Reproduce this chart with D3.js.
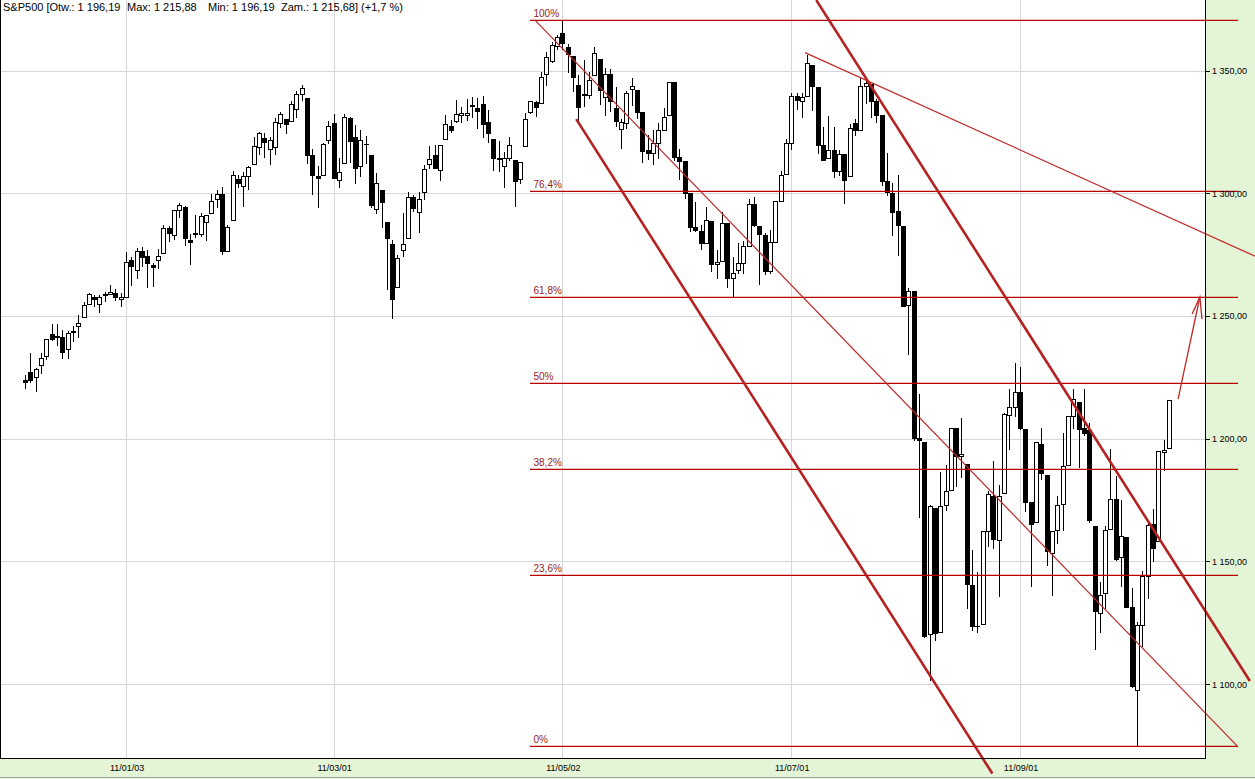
<!DOCTYPE html>
<html><head><meta charset="utf-8">
<script src="https://cdn.jsdelivr.net/npm/d3@7"></script>
<style>body{margin:0;background:#fff;overflow:hidden}svg{display:block}</style>
</head><body>
<script>
// ---------- DATA (S&P500 daily OHLC) ----------
const dates = [
"10/12/06","10/12/07","10/12/08","10/12/09","10/12/10","10/12/13","10/12/14","10/12/15","10/12/16","10/12/17","10/12/20","10/12/21","10/12/22","10/12/23","10/12/27","10/12/28","10/12/29","10/12/30","10/12/31",
"11/01/03","11/01/04","11/01/05","11/01/06","11/01/07","11/01/10","11/01/11","11/01/12","11/01/13","11/01/14","11/01/18","11/01/19","11/01/20","11/01/21","11/01/24","11/01/25","11/01/26","11/01/27","11/01/28","11/01/31",
"11/02/01","11/02/02","11/02/03","11/02/04","11/02/07","11/02/08","11/02/09","11/02/10","11/02/11","11/02/14","11/02/15","11/02/16","11/02/17","11/02/18","11/02/22","11/02/23","11/02/24","11/02/25","11/02/28",
"11/03/01","11/03/02","11/03/03","11/03/04","11/03/07","11/03/08","11/03/09","11/03/10","11/03/11","11/03/14","11/03/15","11/03/16","11/03/17","11/03/18","11/03/21","11/03/22","11/03/23","11/03/24","11/03/25","11/03/28","11/03/29","11/03/30","11/03/31",
"11/04/01","11/04/04","11/04/05","11/04/06","11/04/07","11/04/08","11/04/11","11/04/12","11/04/13","11/04/14","11/04/15","11/04/18","11/04/19","11/04/20","11/04/21","11/04/25","11/04/26","11/04/27","11/04/28","11/04/29",
"11/05/02","11/05/03","11/05/04","11/05/05","11/05/06","11/05/09","11/05/10","11/05/11","11/05/12","11/05/13","11/05/16","11/05/17","11/05/18","11/05/19","11/05/20","11/05/23","11/05/24","11/05/25","11/05/26","11/05/27","11/05/31",
"11/06/01","11/06/02","11/06/03","11/06/06","11/06/07","11/06/08","11/06/09","11/06/10","11/06/13","11/06/14","11/06/15","11/06/16","11/06/17","11/06/20","11/06/21","11/06/22","11/06/23","11/06/24","11/06/27","11/06/28","11/06/29","11/06/30",
"11/07/01","11/07/05","11/07/06","11/07/07","11/07/08","11/07/11","11/07/12","11/07/13","11/07/14","11/07/15","11/07/18","11/07/19","11/07/20","11/07/21","11/07/22","11/07/25","11/07/26","11/07/27","11/07/28","11/07/29",
"11/08/01","11/08/02","11/08/03","11/08/04","11/08/05","11/08/08","11/08/09","11/08/10","11/08/11","11/08/12","11/08/15","11/08/16","11/08/17","11/08/18","11/08/19","11/08/22","11/08/23","11/08/24","11/08/25","11/08/26","11/08/29","11/08/30","11/08/31",
"11/09/01","11/09/02","11/09/06","11/09/07","11/09/08","11/09/09","11/09/12","11/09/13","11/09/14","11/09/15","11/09/16","11/09/19","11/09/20","11/09/21","11/09/22","11/09/23","11/09/26","11/09/27","11/09/28","11/09/29","11/09/30",
"11/10/03","11/10/04","11/10/05","11/10/06","11/10/07","11/10/10","11/10/11","11/10/12"];

const openVals = [
1223.87,1227.25,1225.02,1230.14,1233.85,1242.52,1241.84,1241.58,1236.34,1243.63,1245.76,1249.43,1254.94,1257.53,1254.66,1259.10,1258.78,1259.44,1256.76,
1257.62,1272.95,1268.78,1276.29,1274.41,1270.84,1272.58,1275.65,1285.78,1282.90,1293.22,1294.52,1280.85,1283.63,1283.29,1288.17,1291.97,1297.51,1299.63,1276.50,
1289.14,1305.91,1302.77,1307.01,1311.85,1318.76,1322.48,1318.13,1318.66,1328.73,1330.43,1329.51,1334.37,1340.38,1338.91,1315.44,1307.09,1307.34,1321.61,
1328.64,1305.47,1312.37,1330.73,1322.72,1311.05,1319.92,1315.72,1293.43,1301.19,1288.46,1279.46,1261.61,1276.71,1281.65,1298.29,1292.19,1300.61,1311.80,1315.45,1309.37,1321.89,1327.44,
1329.48,1332.03,1332.03,1335.94,1334.82,1336.16,1329.01,1321.96,1314.03,1311.13,1314.54,1313.35,1305.99,1319.12,1333.23,1337.14,1336.75,1348.43,1353.86,1360.14,
1365.21,1359.76,1355.90,1344.16,1340.24,1340.20,1348.34,1354.51,1339.39,1348.69,1334.77,1326.10,1328.54,1342.40,1342.00,1333.07,1317.70,1316.36,1320.64,1325.69,1331.72,
1345.20,1314.55,1312.94,1300.26,1286.31,1284.63,1279.63,1288.60,1271.31,1272.22,1287.87,1265.53,1268.58,1271.50,1278.40,1295.48,1286.60,1283.04,1268.44,1280.21,1296.85,1307.64,
1320.64,1339.59,1337.56,1339.62,1352.39,1343.31,1319.61,1314.45,1317.74,1308.87,1315.94,1307.07,1328.66,1325.65,1343.80,1344.32,1337.39,1331.91,1304.84,1300.12,
1292.59,1286.56,1254.25,1260.23,1200.28,1198.48,1120.23,1171.77,1121.30,1172.87,1178.86,1204.22,1192.89,1189.62,1140.47,1123.55,1124.36,1162.16,1176.69,1158.85,1177.91,1209.76,1213.00,
1219.12,1203.90,1173.97,1165.85,1197.98,1185.37,1153.50,1162.59,1173.32,1189.44,1209.21,1214.99,1204.50,1203.63,1164.55,1128.82,1136.91,1163.32,1175.39,1151.74,1159.93,
1131.21,1097.42,1124.03,1144.11,1165.03,1158.15,1194.60,1196.19];

const highVals = [
1225.80,1235.05,1228.93,1234.71,1240.40,1246.73,1246.59,1244.25,1243.75,1245.81,1250.20,1255.82,1259.39,1258.59,1258.43,1259.90,1262.60,1261.09,1259.34,
1276.17,1274.12,1277.63,1278.17,1276.83,1271.52,1277.25,1286.87,1286.70,1293.24,1296.06,1294.60,1283.35,1291.21,1291.93,1291.26,1299.74,1301.29,1302.67,1287.17,
1308.86,1307.61,1308.60,1311.00,1322.85,1324.87,1324.54,1322.78,1330.79,1332.96,1330.43,1337.61,1341.50,1344.07,1338.91,1317.91,1310.91,1320.61,1329.38,
1332.09,1314.19,1332.28,1331.08,1327.68,1325.74,1323.21,1315.72,1308.35,1301.19,1288.46,1280.91,1274.74,1291.99,1300.58,1299.35,1300.51,1311.34,1319.18,1319.74,1319.45,1331.74,1329.77,
1337.85,1335.31,1338.21,1339.38,1338.80,1339.46,1333.77,1321.96,1321.35,1316.79,1322.88,1313.35,1312.70,1332.66,1337.49,1337.55,1349.55,1357.49,1361.71,1364.56,
1370.58,1360.84,1355.90,1348.00,1354.36,1349.44,1359.44,1354.51,1351.05,1350.47,1343.33,1330.42,1341.82,1346.82,1342.00,1333.07,1323.72,1325.86,1328.51,1334.62,1345.20,
1345.20,1318.03,1312.94,1300.26,1296.22,1287.04,1294.54,1288.60,1277.04,1292.50,1287.87,1274.11,1279.82,1280.42,1297.62,1298.61,1286.60,1283.93,1284.91,1296.80,1309.21,1321.97,
1341.01,1340.89,1340.94,1356.48,1352.39,1343.31,1327.17,1331.48,1326.88,1317.70,1315.94,1328.14,1330.43,1347.00,1346.10,1344.32,1338.51,1331.91,1316.32,1304.16,
1307.38,1286.58,1261.20,1260.23,1218.11,1198.48,1172.88,1171.77,1186.29,1189.04,1204.49,1204.22,1208.47,1189.62,1154.54,1145.49,1162.35,1178.56,1190.68,1181.23,1210.28,1220.10,1230.71,
1229.29,1203.90,1173.97,1198.62,1204.40,1185.37,1162.52,1176.41,1202.38,1209.11,1220.06,1214.99,1220.39,1206.30,1164.55,1141.72,1164.19,1195.86,1184.71,1175.09,1159.93,
1138.99,1125.12,1146.07,1165.55,1171.40,1194.91,1199.24,1215.88];

const lowVals = [
1220.67,1223.25,1219.50,1226.85,1232.58,1240.34,1238.17,1232.85,1232.85,1239.87,1241.51,1249.43,1254.94,1254.05,1251.48,1256.22,1258.78,1256.32,1254.19,
1257.62,1262.66,1265.36,1270.43,1261.70,1262.18,1269.62,1275.65,1280.47,1281.24,1290.16,1278.92,1271.26,1282.07,1282.47,1281.07,1291.97,1294.41,1275.10,1276.50,
1289.14,1302.62,1294.83,1301.67,1311.85,1316.03,1314.89,1311.74,1316.08,1326.90,1324.61,1329.51,1331.00,1338.12,1312.33,1299.55,1294.26,1307.34,1320.55,
1306.14,1302.58,1312.37,1312.59,1303.99,1306.86,1312.27,1294.21,1291.99,1286.37,1261.12,1249.05,1261.61,1274.59,1281.65,1292.70,1284.38,1297.74,1310.15,1310.19,1305.26,1321.89,1325.03,
1328.89,1329.19,1330.03,1331.09,1326.56,1322.94,1321.06,1309.51,1309.19,1302.42,1313.68,1294.70,1303.97,1319.12,1332.83,1331.47,1336.75,1344.25,1353.60,1358.69,
1358.59,1349.52,1341.50,1329.17,1335.58,1338.64,1348.34,1336.36,1332.03,1333.36,1327.32,1318.51,1326.59,1336.12,1330.67,1312.88,1313.87,1311.80,1314.41,1325.69,1331.72,
1313.71,1305.61,1297.90,1284.72,1284.74,1277.42,1279.63,1268.28,1265.64,1272.22,1261.90,1258.07,1267.40,1267.56,1278.40,1286.79,1262.87,1267.24,1267.53,1280.21,1296.85,1307.64,
1318.18,1334.30,1330.92,1339.62,1333.71,1316.42,1313.33,1314.45,1306.51,1307.35,1295.92,1307.07,1323.65,1325.65,1336.95,1331.09,1329.10,1303.49,1299.16,1282.86,
1274.73,1254.03,1234.56,1199.54,1168.09,1119.28,1101.54,1118.01,1121.30,1170.74,1178.86,1180.53,1184.36,1131.03,1122.05,1121.09,1124.36,1156.30,1155.47,1135.91,1177.91,1195.77,1209.35,
1203.85,1170.56,1140.13,1165.85,1183.34,1148.37,1136.07,1157.44,1162.73,1189.44,1204.46,1188.36,1201.29,1166.21,1114.22,1121.36,1131.07,1163.32,1150.40,1139.93,1131.34,
1098.92,1074.77,1115.68,1134.95,1150.26,1158.15,1187.30,1196.19];

const closeVals = [
1223.12,1223.75,1228.28,1233.00,1240.40,1240.46,1241.59,1235.23,1242.87,1243.91,1247.08,1254.60,1258.84,1256.77,1257.54,1258.51,1259.78,1257.88,1257.64,
1271.87,1270.20,1276.56,1273.85,1271.50,1269.75,1274.48,1285.96,1283.76,1293.24,1295.02,1281.92,1280.26,1283.35,1290.84,1291.18,1296.63,1299.54,1276.34,1286.12,
1307.59,1304.03,1307.10,1310.87,1319.05,1324.57,1320.88,1321.87,1329.15,1332.32,1328.01,1336.32,1340.43,1343.01,1315.44,1307.40,1306.10,1319.88,1327.22,
1306.33,1308.44,1330.97,1321.15,1310.13,1321.82,1320.02,1295.11,1304.28,1296.39,1281.87,1256.88,1273.72,1279.21,1298.38,1293.77,1297.54,1309.66,1313.80,1310.19,1319.44,1328.26,1325.83,
1332.41,1332.87,1332.63,1335.54,1333.51,1328.17,1324.46,1314.16,1314.41,1314.52,1319.68,1305.14,1312.62,1330.36,1337.38,1335.25,1347.24,1355.66,1360.48,1363.61,
1361.22,1356.62,1347.32,1335.10,1340.20,1346.29,1357.16,1342.08,1348.65,1337.77,1329.47,1328.98,1340.68,1343.60,1333.27,1317.37,1316.28,1320.47,1325.69,1331.10,1345.20,
1314.55,1312.94,1300.16,1286.17,1284.94,1279.56,1289.00,1270.98,1271.83,1287.87,1265.42,1267.64,1271.50,1278.36,1295.52,1287.14,1283.50,1268.45,1280.10,1296.67,1307.41,1320.64,
1339.67,1337.88,1339.22,1353.22,1343.80,1319.49,1313.64,1317.72,1308.87,1316.14,1305.44,1326.73,1325.84,1343.80,1345.02,1337.43,1331.94,1304.89,1300.67,1292.28,
1286.94,1254.05,1260.34,1200.07,1199.38,1119.46,1172.53,1120.76,1172.64,1178.81,1204.49,1192.76,1193.89,1140.65,1123.53,1123.82,1162.35,1177.60,1159.27,1176.80,1210.08,1212.92,1218.89,
1204.42,1173.97,1165.24,1198.62,1185.90,1154.23,1162.27,1172.87,1188.68,1209.11,1216.01,1204.09,1202.09,1166.76,1129.56,1136.43,1162.95,1175.38,1151.06,1160.40,1131.42,
1099.23,1123.95,1144.03,1164.97,1155.46,1194.89,1195.54,1215.68];

const xTickDates = ["11/01/03","11/03/01","11/05/02","11/07/01","11/09/01"];
const yTicks = [1100, 1150, 1200, 1250, 1300, 1350];

// Fibonacci retracement levels (low 1074.77 -> high 1370.58)
const fibValues = [1074.77, 1144.58, 1187.77, 1222.68, 1257.58, 1300.77, 1370.58];
const fibLabels = ["0%", "23,6%", "38,2%", "50%", "61,8%", "76,4%", "100%"];
const fibRange = [95, 228];   // bar index span

// Trend lines: [bar index, value]
const thickLines = [
  [[103.6, 1330.2], [181.8, 1063.5]],
  [[148.7, 1378.7], [230.2, 1101.2]]
];
const thinLines = [
  [[95.8, 1370.6], [227.8, 1074.8]],
  [[146.6, 1357.3], [232.0, 1273.5]]
];
const arrowLine = [[216.7, 1216.1], [220.8, 1257.7]];
const arrowHead = [[219.35, 1250.8], [220.8, 1257.7], [221.2, 1248.7]];

// Title pieces (instrument, open, max, min, close, change)
const titleParts = ["S&P500 [Otw.: 1 196,19", "Max: 1 215,88", "Min: 1 196,19", "Zam.: 1 215,68] (+1,7 %)"];
const titleX = [3, 127, 208, 281];

// ---------- LAYOUT ----------
const W = 1255, H = 779;
const plotRight = 1205, plotBottom = 758;
const x = d3.scaleLinear().domain([0, dates.length - 1]).range([25, 1169]);
const y = d3.scaleLinear().domain([1100, 1350]).range([684, 70.5]);

const svg = d3.select("body").append("svg").attr("width", W).attr("height", H)
  .style("font-family", "'Liberation Sans', Arial, sans-serif");

svg.append("rect").attr("width", W).attr("height", H).attr("fill", "#e4f4d6");
svg.append("rect").attr("x", 0).attr("y", 0).attr("width", plotRight).attr("height", plotBottom).attr("fill", "#fff");
svg.append("line").attr("x1", 0).attr("x2", W).attr("y1", 777.5).attr("y2", 777.5).attr("stroke", "#a0a0a0");

const grid = svg.append("g");
grid.selectAll("line.h").data(yTicks).join("line").attr("class", "h")
  .attr("x1", 0).attr("x2", plotRight)
  .attr("y1", d => Math.round(y(d)) + 0.5).attr("y2", d => Math.round(y(d)) + 0.5)
  .attr("stroke", "#d6d6d6");
grid.selectAll("line.v").data(xTickDates).join("line").attr("class", "v")
  .attr("x1", d => Math.round(x(dates.indexOf(d))) + 0.5).attr("x2", d => Math.round(x(dates.indexOf(d))) + 0.5)
  .attr("y1", 0).attr("y2", plotBottom)
  .attr("stroke", "#d6d6d6");

// ---------- CANDLES ----------
const bars = dates.map((d, i) => ({i, o: openVals[i], h: highVals[i], l: lowVals[i], c: closeVals[i]}));
const cg = svg.append("g");
cg.selectAll("line.wick").data(bars).join("line").attr("class", "wick")
  .attr("x1", d => Math.round(x(d.i)) + 0.5).attr("x2", d => Math.round(x(d.i)) + 0.5)
  .attr("y1", d => Math.round(y(d.h))).attr("y2", d => Math.round(y(d.l)) + 1)
  .attr("stroke", "#000");
bars.forEach(d => {
  const cx = Math.round(x(d.i));
  const top = Math.round(y(Math.max(d.o, d.c)));
  const bot = Math.round(y(Math.min(d.o, d.c)));
  if (bot - top < 1) {
    cg.append("line").attr("x1", cx - 2).attr("x2", cx + 3)
      .attr("y1", top + 0.5).attr("y2", top + 0.5).attr("stroke", "#000");
  } else {
    cg.append("rect").attr("x", cx - 1.5).attr("y", top + 0.5)
      .attr("width", 4).attr("height", bot - top)
      .attr("fill", d.c >= d.o ? "#fff" : "#000").attr("stroke", "#000");
  }
});

// ---------- FIBONACCI ----------
const fg = svg.append("g");
fibValues.forEach((v, k) => {
  const yy = Math.round(y(v)) + 0.3;
  fg.append("line").attr("x1", Math.round(x(fibRange[0]))).attr("x2", Math.round(x(fibRange[1])))
    .attr("y1", yy).attr("y2", yy).attr("stroke", "#b80000").attr("stroke-width", 1.3);
  fg.append("text").attr("x", x(fibRange[0]) + 3).attr("y", Math.round(y(v)) - 3)
    .attr("font-size", 10).attr("fill", "#9a1c1c").text(fibLabels[k]);
});

// ---------- TREND LINES ----------
const tl = svg.append("g").attr("fill", "none");
thickLines.forEach(L => tl.append("line")
  .attr("x1", x(L[0][0])).attr("y1", y(L[0][1])).attr("x2", x(L[1][0])).attr("y2", y(L[1][1]))
  .attr("stroke", "#b42222").attr("stroke-width", 2.6));
thinLines.forEach(L => tl.append("line")
  .attr("x1", x(L[0][0])).attr("y1", y(L[0][1])).attr("x2", x(L[1][0])).attr("y2", y(L[1][1]))
  .attr("stroke", "#c02828").attr("stroke-width", 1.2));
const lg = d3.line().x(d => x(d[0])).y(d => y(d[1]));
tl.append("path").attr("d", lg(arrowLine)).attr("stroke", "#c02828").attr("stroke-width", 1.3);
tl.append("path").attr("d", lg(arrowHead)).attr("stroke", "#c02828").attr("stroke-width", 1.3);

// ---------- FRAME & AXES ----------
svg.append("line").attr("x1", plotRight + 0.5).attr("x2", plotRight + 0.5).attr("y1", 0).attr("y2", plotBottom + 1)
  .attr("stroke", "#000");
svg.append("line").attr("x1", 0).attr("x2", plotRight + 1).attr("y1", plotBottom + 0.5).attr("y2", plotBottom + 0.5)
  .attr("stroke", "#000");
svg.append("line").attr("x1", 0.5).attr("x2", 0.5).attr("y1", 0).attr("y2", plotBottom).attr("stroke", "#000");

const loc = d3.formatLocale({decimal: ",", thousands: " ", grouping: [3], currency: ["", ""]});
const fmt = loc.format(",.2f");
const ya = svg.append("g");
ya.selectAll("line").data(yTicks).join("line")
  .attr("x1", plotRight + 1).attr("x2", plotRight + 5)
  .attr("y1", d => Math.round(y(d)) + 0.5).attr("y2", d => Math.round(y(d)) + 0.5).attr("stroke", "#000");
ya.selectAll("text").data(yTicks).join("text")
  .attr("x", 1212).attr("y", d => y(d) + 3.5).attr("font-size", 9).attr("fill", "#000").text(d => fmt(d));

const xa = svg.append("g");
xa.selectAll("text").data(xTickDates).join("text")
  .attr("x", d => x(dates.indexOf(d)) + 1).attr("y", 771).attr("text-anchor", "middle")
  .attr("font-size", 9).attr("fill", "#000").text(d => d);

svg.append("g").selectAll("text").data(titleParts).join("text")
  .attr("x", (d, k) => titleX[k]).attr("y", 11).attr("font-size", 11).attr("fill", "#000").text(d => d);
</script>
</body></html>
